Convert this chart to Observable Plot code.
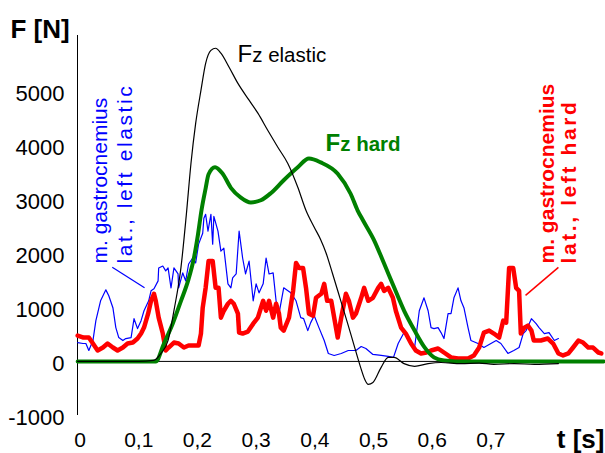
<!DOCTYPE html>
<html>
<head>
<meta charset="utf-8">
<script src="https://cdn.jsdelivr.net/npm/d3@7"></script>
<script src="https://cdn.jsdelivr.net/npm/@observablehq/plot@0.6"></script>
<style>
html, body { margin: 0; padding: 0; background: #fff; }
#chart svg { display: block; }
</style>
</head>
<body>
<div id="chart"></div>
<script>
// ---- tick labels ----
const xTicks = [0, 0.1, 0.2, 0.3, 0.4, 0.5, 0.6, 0.7];
const xTickLabels = ["0", "0,1", "0,2", "0,3", "0,4", "0,5", "0,6", "0,7"];
const yTicks = [-1000, 0, 1000, 2000, 3000, 4000, 5000];

// ---- series: [t (s), F (N)] ----
const fzElastic = [
  [-0.004, 0], [0.05, 0], [0.10, 0], [0.125, 20], [0.138, 150], [0.150, 390], [0.160, 940],
  [0.172, 1740], [0.181, 2700], [0.189, 3660], [0.197, 4400], [0.206, 5010], [0.214, 5510],
  [0.223, 5750], [0.231, 5790], [0.240, 5700], [0.254, 5440], [0.269, 5140], [0.288, 4830],
  [0.303, 4590], [0.320, 4270], [0.337, 3960], [0.354, 3660], [0.371, 3220], [0.385, 2790],
  [0.399, 2480], [0.410, 2250], [0.419, 2010], [0.430, 1630], [0.444, 1130], [0.456, 700],
  [0.466, 330], [0.478, -110], [0.485, -330], [0.491, -425], [0.499, -390], [0.513, -110],
  [0.525, 75], [0.535, 75], [0.552, -40], [0.570, -90], [0.593, -40], [0.615, -20],
  [0.649, -40], [0.680, -30], [0.705, -55], [0.740, -40], [0.774, -55], [0.815, -40]
];

const fzHard = [
  [-0.004, 0], [0.129, 0], [0.143, 330], [0.158, 700], [0.172, 1120], [0.184, 1490],
  [0.194, 1910], [0.201, 2350], [0.207, 2800], [0.214, 3200], [0.219, 3460], [0.230, 3590],
  [0.243, 3470], [0.257, 3210], [0.274, 3030], [0.291, 2940], [0.308, 2980], [0.325, 3110],
  [0.347, 3350], [0.371, 3590], [0.390, 3750], [0.410, 3680], [0.439, 3470], [0.461, 3100],
  [0.473, 2790], [0.482, 2610], [0.501, 2240], [0.518, 1810], [0.535, 1370], [0.552, 940],
  [0.570, 570], [0.587, 260], [0.603, 75], [0.620, 15], [0.640, 0], [0.892, 0]
];

const gastroElastic = [
  [-0.004, 349], [0.005, 331], [0.010, 331], [0.015, 202], [0.022, 386], [0.027, 754],
  [0.035, 1121], [0.044, 1323], [0.049, 1213], [0.056, 993], [0.061, 625], [0.066, 441],
  [0.073, 386], [0.078, 423], [0.087, 441], [0.092, 790], [0.098, 607], [0.104, 754],
  [0.109, 937], [0.117, 1121], [0.121, 1305], [0.126, 1342], [0.133, 1489], [0.134, 1728],
  [0.141, 1764], [0.146, 1673], [0.150, 1728], [0.155, 1360], [0.160, 1728], [0.167, 1617],
  [0.168, 1360], [0.175, 1636], [0.180, 1489], [0.185, 1801], [0.192, 1912], [0.197, 1820],
  [0.202, 2169], [0.209, 2371], [0.211, 2647], [0.214, 2720], [0.218, 2408], [0.223, 2720],
  [0.226, 2169], [0.228, 2683], [0.235, 2408], [0.240, 2040], [0.245, 2095], [0.252, 1434],
  [0.257, 1360], [0.260, 1544], [0.266, 1617], [0.271, 2408], [0.277, 1912], [0.282, 1617],
  [0.288, 1856], [0.295, 1121], [0.300, 1434], [0.305, 1268], [0.312, 1434], [0.317, 1912],
  [0.322, 1617], [0.329, 1636], [0.334, 1121], [0.339, 882], [0.347, 1360], [0.359, 1268],
  [0.368, 1121], [0.376, 809], [0.381, 790], [0.388, 570], [0.393, 717], [0.399, 845],
  [0.407, 625], [0.416, 386], [0.423, 147], [0.433, 110], [0.445, 147], [0.457, 202],
  [0.470, 202], [0.479, 276], [0.487, 239], [0.499, 129], [0.513, 110], [0.525, 92],
  [0.534, 74], [0.542, 331], [0.552, 533], [0.561, 386], [0.570, 257], [0.578, 937],
  [0.586, 1176], [0.593, 937], [0.598, 625], [0.603, 607], [0.610, 625], [0.615, 533],
  [0.620, 423], [0.627, 882], [0.632, 882], [0.637, 1176], [0.644, 1360], [0.649, 1121],
  [0.654, 993], [0.661, 625], [0.666, 386], [0.678, 331], [0.688, 257], [0.700, 331],
  [0.709, 386], [0.717, 331], [0.729, 147], [0.739, 202], [0.748, 257], [0.755, 515],
  [0.760, 570], [0.769, 790], [0.777, 698], [0.782, 625], [0.791, 515], [0.799, 533],
  [0.808, 386], [0.815, 423]
];

const gastroHard = [
  [-0.004, 478], [0.006, 441], [0.015, 441], [0.022, 331], [0.030, 202], [0.039, 257],
  [0.047, 331], [0.056, 257], [0.064, 202], [0.073, 257], [0.081, 331], [0.090, 349],
  [0.098, 423], [0.104, 515], [0.109, 625], [0.116, 882], [0.121, 1121], [0.126, 1250],
  [0.129, 1121], [0.134, 809], [0.141, 515], [0.146, 202], [0.151, 257], [0.160, 349],
  [0.168, 331], [0.177, 257], [0.185, 294], [0.194, 294], [0.202, 294], [0.206, 515],
  [0.209, 993], [0.214, 1360], [0.219, 1856], [0.226, 1856], [0.231, 1360], [0.236, 1360],
  [0.240, 809], [0.245, 937], [0.252, 1066], [0.257, 1121], [0.262, 1066], [0.269, 882],
  [0.271, 533], [0.277, 515], [0.286, 551], [0.295, 698], [0.303, 809], [0.312, 1121],
  [0.317, 937], [0.322, 1121], [0.329, 809], [0.334, 1066], [0.339, 882], [0.342, 625],
  [0.347, 570], [0.356, 809], [0.363, 1305], [0.368, 1820], [0.373, 1728], [0.380, 1728],
  [0.385, 1360], [0.390, 882], [0.397, 845], [0.402, 1176], [0.411, 1250], [0.416, 1434],
  [0.421, 1121], [0.428, 1121], [0.433, 809], [0.439, 441], [0.445, 809], [0.453, 1250],
  [0.458, 1121], [0.465, 809], [0.470, 882], [0.479, 1176], [0.484, 1360], [0.491, 1121],
  [0.499, 1176], [0.508, 1360], [0.513, 1434], [0.518, 1305], [0.525, 1360], [0.533, 1176],
  [0.538, 937], [0.547, 625], [0.555, 515], [0.564, 331], [0.572, 202], [0.581, 147],
  [0.590, 165], [0.598, 202], [0.610, 239], [0.620, 165], [0.632, 74], [0.644, 55],
  [0.661, 55], [0.671, 110], [0.680, 257], [0.688, 533], [0.697, 570], [0.705, 515],
  [0.714, 441], [0.721, 754], [0.726, 717], [0.731, 1728], [0.738, 1728], [0.743, 1360],
  [0.748, 1305], [0.751, 515], [0.757, 625], [0.763, 662], [0.769, 570], [0.773, 386],
  [0.785, 386], [0.797, 423], [0.806, 331], [0.815, 147], [0.823, 110], [0.832, 147],
  [0.840, 257], [0.849, 386], [0.857, 349], [0.866, 257], [0.874, 257], [0.883, 165],
  [0.888, 147]
];

// ---- text ----
const yTitle = "F [N]";
const xTitle = "t [s]";
const elasticLabel = ["F", "z elastic"];
const hardLabel = ["F", "z hard"];
const blueLabel = ["m. gastrocnemius", "lat., left elastic"];
const redLabel = ["m. gastrocnemius", "lat., left hard"];

const FONT = "'Liberation Sans', Arial, Helvetica, sans-serif";
const xDomain = [-0.0043, 0.8918];
const yDomain = [-1000, 6026];

const toRows = arr => arr.map(([t, F]) => ({t, F}));

function note(txt, t, f, opts) {
  return Plot.text([txt], {x: () => t, y: () => f, text: d => d, ...opts});
}

const chart = Plot.plot({
  width: 605,
  height: 453,
  marginLeft: 77,
  marginRight: 2,
  marginTop: 35,
  marginBottom: 38,
  style: {fontFamily: FONT, fontSize: "21px", background: "white", overflow: "visible", color: "black"},
  x: {domain: xDomain},
  y: {domain: yDomain},
  marks: [
    Plot.ruleY([0], {stroke: "black", strokeWidth: 1}),
    Plot.ruleX([xDomain[0]], {stroke: "black", strokeWidth: 1}),
    Plot.line(toRows(gastroElastic), {x: "t", y: "F", stroke: "#0000ff", strokeWidth: 1.2}),
    Plot.line(toRows(gastroHard), {x: "t", y: "F", stroke: "#ff0000", strokeWidth: 4.5, strokeLinejoin: "round"}),
    Plot.line(toRows(fzHard), {x: "t", y: "F", stroke: "#008000", strokeWidth: 4, curve: "monotone-x"}),
    Plot.line(toRows(fzElastic), {x: "t", y: "F", stroke: "black", strokeWidth: 1.2, curve: "monotone-x"}),
    // leader lines
    Plot.link([0], {x1: () => 0.0549, y1: () => 1743, x2: () => 0.1099, y2: () => 1362, stroke: "#0000ff", strokeWidth: 1.2}),
    Plot.link([0], {x1: () => 0.815, y1: () => 1738, x2: () => 0.759, y2: () => 1220, stroke: "#ff0000", strokeWidth: 1.5}),
    // curve labels
    note(elasticLabel[0], 0.2683, 5527, {textAnchor: "start", lineAnchor: "bottom", fontSize: 24, fill: "black"}),
    note(elasticLabel[1], 0.2683, 5527, {textAnchor: "start", lineAnchor: "bottom", fontSize: 20.5, dx: 14.7, fill: "black"}),
    note(hardLabel[0], 0.4182, 3882, {textAnchor: "start", lineAnchor: "bottom", fontSize: 24, fontWeight: "bold", fill: "#008000"}),
    note(hardLabel[1], 0.4182, 3882, {textAnchor: "start", lineAnchor: "bottom", fontSize: 20.5, fontWeight: "bold", dx: 14.7, fill: "#008000"}),
    note(blueLabel[0], 0.0460, 1811, {textAnchor: "start", lineAnchor: "bottom", rotate: -90, fontSize: 21, fill: "#0000ff"}),
    note(blueLabel[1], 0.0877, 1811, {textAnchor: "start", lineAnchor: "bottom", rotate: -90, fontSize: 21, fill: "#0000ff"}),
    note(redLabel[0], 0.8075, 1811, {textAnchor: "start", lineAnchor: "bottom", rotate: -90, fontSize: 21, fontWeight: "bold", fill: "#ff0000"}),
    note(redLabel[1], 0.8458, 1811, {textAnchor: "start", lineAnchor: "bottom", rotate: -90, fontSize: 21, fontWeight: "bold", fill: "#ff0000"}),
    // axis titles
    Plot.text([yTitle], {frameAnchor: "top-left", text: d => d, textAnchor: "start", lineAnchor: "bottom", dx: -67, dy: 2, fontSize: 26, fontWeight: "bold", fill: "black"}),
    Plot.text([xTitle], {frameAnchor: "bottom-right", text: d => d, textAnchor: "end", lineAnchor: "bottom", dx: 1, dy: 32, fontSize: 26, fontWeight: "bold", fill: "black"}),
    // axes
    Plot.axisY({ticks: yTicks, tickFormat: d => String(d), tickSize: 0, tickPadding: 13, fontSize: 22, dy: 2.5, label: null}),
    Plot.axisX({ticks: xTicks, tickFormat: (d, i) => xTickLabels[i], tickSize: 0, tickPadding: 17, fontSize: 21, label: null})
  ]
});

document.getElementById("chart").appendChild(chart);

// second lines of the rotated labels are letter-spaced in the original
d3.select(chart).selectAll("text")
  .filter(function () { return this.textContent.startsWith("lat."); })
  .style("letter-spacing", "2.6px");
</script>
</body>
</html>
